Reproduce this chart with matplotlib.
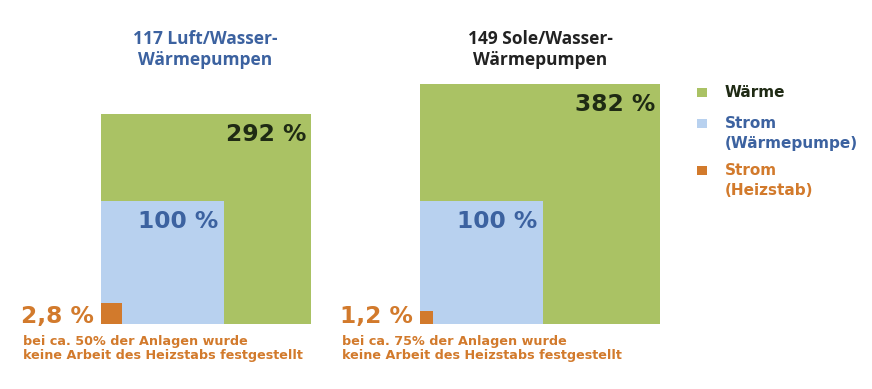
import matplotlib
matplotlib.use("Agg")
import matplotlib.pyplot as plt
from matplotlib.patches import Rectangle
import numpy as np

# ---- data ----
titles = ["117 Luft/Wasser-\nWärmepumpen", "149 Sole/Wasser-\nWärmepumpen"]
waerme = [292, 382]          # Wärme in %
strom_wp = [100, 100]        # Strom (Wärmepumpe) in %
strom_hs = [2.8, 1.2]        # Strom (Heizstab) in %
notes = ["bei ca. 50% der Anlagen wurde\nkeine Arbeit des Heizstabs festgestellt",
         "bei ca. 75% der Anlagen wurde\nkeine Arbeit des Heizstabs festgestellt"]
legend_labels = ["Wärme", "Strom\n(Wärmepumpe)", "Strom\n(Heizstab)"]

# ---- style ----
GREEN = "#AAC264"
LBLUE = "#B8D1EF"
ORANGE = "#D27A2C"
TBLUE = "#3C62A0"
DARK = "#1F2A14"
TFONT = "Open Sans"
BFONT = "DejaVu Sans"

W, H = 872, 389
fig = plt.figure(figsize=(W / 100, H / 100), dpi=100)
ax = fig.add_axes([0, 0, 1, 1])
ax.set_xlim(0, W)
ax.set_ylim(H, 0)
ax.axis("off")

x0s = [101, 420]
base = 324
unit = 123  # pixel side of a 100 % square (area proportional)
title_colors = [TBLUE, "#222222"]
title_cx = [205, 540]


def side(v):
    return unit * np.sqrt(v / 100.0)


def fmt(v):
    s = f"{v:g}".replace(".", ",")
    return f"{s} %"


def lines(x, y, txt, step, **kw):
    for k, ln in enumerate(txt.split("\n")):
        ax.text(x, y + k * step, ln, va="baseline", **kw)


for i in range(2):
    x0 = x0s[i]
    sg, sb, so = side(waerme[i]), side(strom_wp[i]), side(strom_hs[i])
    ax.add_patch(Rectangle((x0, base - sg), sg, sg, color=GREEN, lw=0))
    ax.add_patch(Rectangle((x0, base - sb), sb, sb, color=LBLUE, lw=0))
    ax.add_patch(Rectangle((x0, base - so), so, so, color=ORANGE, lw=0))
    ax.text(x0 + sg - 5, base - sg + 27, fmt(waerme[i]), ha="right", va="baseline",
            fontsize=16.8, fontweight="bold", color=DARK, family=BFONT)
    ax.text(x0 + sb - 6, base - sb + 27, fmt(strom_wp[i]), ha="right", va="baseline",
            fontsize=16.8, fontweight="bold", color=TBLUE, family=BFONT)
    ax.text(x0 - 7, base - 1, fmt(strom_hs[i]), ha="right", va="baseline",
            fontsize=16.8, fontweight="bold", color=ORANGE, family=BFONT)
    lines(x0 - 78, 345, notes[i], 14.5, ha="left", fontsize=9.2,
          fontweight="bold", color=ORANGE, family=BFONT)
    lines(title_cx[i], 44, titles[i], 21, ha="center", fontsize=12.5,
          fontweight="bold", color=title_colors[i], family=TFONT)

# legend
leg_colors = [GREEN, LBLUE, ORANGE]
leg_text_colors = [DARK, TBLUE, ORANGE]
leg_base = [97, 128, 175]
for c, tc, y, lab in zip(leg_colors, leg_text_colors, leg_base, legend_labels):
    ax.add_patch(Rectangle((697, y - 9), 10, 9, color=c, lw=0))
    lines(725, y, lab, 20, ha="left", fontsize=11, fontweight="bold",
          color=tc, family=BFONT)

fig.savefig("out.png", dpi=100)
